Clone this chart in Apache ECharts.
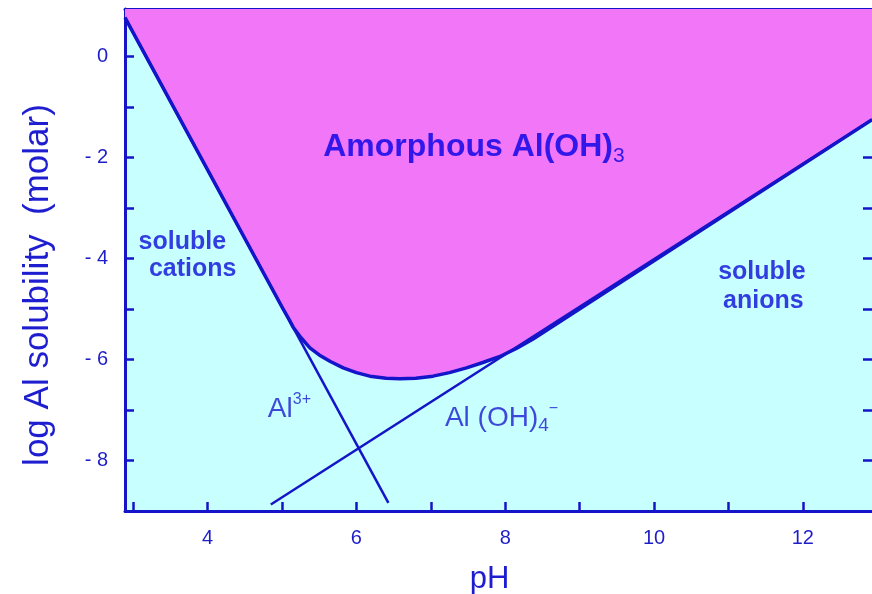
<!DOCTYPE html>
<html>
<head>
<meta charset="utf-8">
<script src="https://cdn.jsdelivr.net/npm/echarts@6/dist/echarts.min.js"></script>
<style>
  html, body { margin: 0; padding: 0; background: #ffffff; }
  #chart { width: 872px; height: 594px; }
</style>
</head>
<body>
<div id="chart"></div>
<script>
// pH range and log-solubility range of the diagram
const phRange = [2.89, 12.93];
const logRange = [-9, 0.94];
const phTicks = [3, 4, 5, 6, 7, 8, 9, 10, 11, 12];
const phLabels = [4, 6, 8, 10, 12];
const logTicks = [-8, -7, -6, -5, -4, -3, -2, -1, 0];
const logLabels = [-8, -6, -4, -2, 0];

// total solubility of amorphous Al(OH)3 (boundary of the solid field)
const totalPH  = [2.89, 5.00, 5.10, 5.15, 5.25, 5.375, 5.50, 5.65, 5.823, 6.00, 6.18, 6.40, 6.585,
                  6.80, 7.03, 7.25, 7.48, 7.70, 7.93, 8.15, 8.37, 12.93];
const totalLog = [0.77, -4.96, -5.22, -5.36, -5.56, -5.77, -5.91, -6.04, -6.165, -6.26, -6.33, -6.37, -6.38,
                  -6.37, -6.33, -6.26, -6.165, -6.06, -5.94, -5.78, -5.60, -1.25];

// Al3+ species line
const cationPH  = [2.89, 6.43];
const cationLog = [0.77, -8.84];

// Al(OH)4- species line
const anionPH  = [4.85, 12.93];
const anionLog = [-8.87, -1.25];

const pairs = (xs, ys) => xs.map((x, i) => [x, ys[i]]);

const BLUE = '#1414c8';
const TEXT_BLUE = '#0000e6';
const LABEL_BLUE = '#1a1ad2';
const FONT = '"Liberation Sans", Arial, Helvetica, sans-serif';

// text annotations placed in data coordinates
const notes = [
  { at: [7.58, -1.80], text: '{b|Amorphous Al(OH)}{s|3}', align: 'center' },
  { at: [3.66, -3.68], text: '{m|soluble}', align: 'center' },
  { at: [3.80, -4.22], text: '{m|cations}', align: 'center' },
  { at: [11.45, -4.27], text: '{m|soluble}', align: 'center' },
  { at: [11.47, -4.84], text: '{m|anions}', align: 'center' },
  { at: [4.81, -6.98], text: '{n|Al}{sup|3+}', align: 'left' },
  { at: [7.19, -7.16], text: '{n|Al (OH)}{sub|4}{sup|\u2212}', align: 'left' }
];

const rich = {
  b: { fontFamily: FONT, fontWeight: 'bold', fontSize: 32, color: TEXT_BLUE, lineHeight: 38 },
  s: { fontFamily: FONT, fontSize: 21, color: TEXT_BLUE, lineHeight: 21, verticalAlign: 'bottom' },
  m: { fontFamily: FONT, fontWeight: 'bold', fontSize: 25, color: '#0c0cd8', lineHeight: 30 },
  n: { fontFamily: FONT, fontSize: 28, color: LABEL_BLUE, lineHeight: 34 },
  sup: { fontFamily: FONT, fontSize: 16, color: LABEL_BLUE, lineHeight: 16, verticalAlign: 'top' },
  sub: { fontFamily: FONT, fontSize: 19, color: LABEL_BLUE, lineHeight: 19, verticalAlign: 'bottom' }
};

const chart = echarts.init(document.getElementById('chart'), null, { renderer: 'canvas' });

const tickStyle = { show: true, inside: true, length: 9, lineStyle: { color: BLUE, width: 2.5 } };
const lineStyle = { show: true, onZero: false, lineStyle: { color: BLUE, width: 3 } };

chart.setOption({
  backgroundColor: '#ffffff',
  animation: false,
  grid: {
    left: 125, right: 0, top: 9, bottom: 83,
    outerBoundsMode: 'none',
    containLabel: false,
    show: true, backgroundColor: '#c8ffff', borderWidth: 0
  },
  graphic: [{
    type: 'text',
    x: 38, y: 285,
    rotation: Math.PI / 2,
    style: {
      text: 'log Al solubility  (molar)',
      fontFamily: FONT, fontSize: 35, fill: '#1e1ed0',
      align: 'center', verticalAlign: 'middle'
    }
  }],
  xAxis: [{
    type: 'value', min: phRange[0], max: phRange[1],
    name: 'pH', nameLocation: 'middle', nameGap: 53,
    nameTextStyle: { fontFamily: FONT, fontSize: 31, color: '#1e1ed0', padding: [0, 18, 0, 0] },
    axisLine: lineStyle,
    axisTick: Object.assign({ customValues: phTicks }, tickStyle),
    axisLabel: {
      customValues: phLabels, margin: 17,
      fontFamily: FONT, fontSize: 20, color: '#1e1ec8'
    },
    splitLine: { show: false }
  }, {
    type: 'value', position: 'top', min: phRange[0], max: phRange[1],
    axisLine: lineStyle, axisTick: { show: false }, axisLabel: { show: false }, splitLine: { show: false }
  }],
  yAxis: [{
    type: 'value', min: logRange[0], max: logRange[1],
    axisLine: lineStyle,
    axisTick: Object.assign({ customValues: logTicks }, tickStyle),
    axisLabel: {
      customValues: logLabels, margin: 17,
      fontFamily: FONT, fontSize: 20, color: '#1e1ec8',
      formatter: v => (v < 0 ? '- ' + Math.abs(v) : String(v))
    },
    splitLine: { show: false }
  }, {
    type: 'value', position: 'right', min: logRange[0], max: logRange[1],
    axisLine: { show: false },
    axisTick: Object.assign({ customValues: logTicks }, tickStyle),
    axisLabel: { show: false }, splitLine: { show: false }
  }],
  series: [{
    name: 'Amorphous Al(OH)3',
    type: 'line',
    data: pairs(totalPH, totalLog),
    showSymbol: false,
    lineStyle: { color: BLUE, width: 3.5, join: 'round' },
    areaStyle: { color: '#f276f8', opacity: 1, origin: 'end' },
    z: 2
  }, {
    name: 'Al3+',
    type: 'line',
    data: pairs(cationPH, cationLog),
    showSymbol: false,
    lineStyle: { color: BLUE, width: 2.5 },
    z: 3
  }, {
    name: 'Al(OH)4-',
    type: 'line',
    data: pairs(anionPH, anionLog),
    showSymbol: false,
    lineStyle: { color: BLUE, width: 2.5 },
    z: 3
  }, {
    name: 'labels',
    type: 'scatter',
    symbolSize: 0,
    silent: true,
    z: 5,
    data: notes.map(n => ({
      value: n.at,
      label: {
        show: true, position: [0, 0], formatter: n.text,
        align: n.align, verticalAlign: 'middle', rich: rich
      }
    }))
  }]
});
</script>
</body>
</html>
